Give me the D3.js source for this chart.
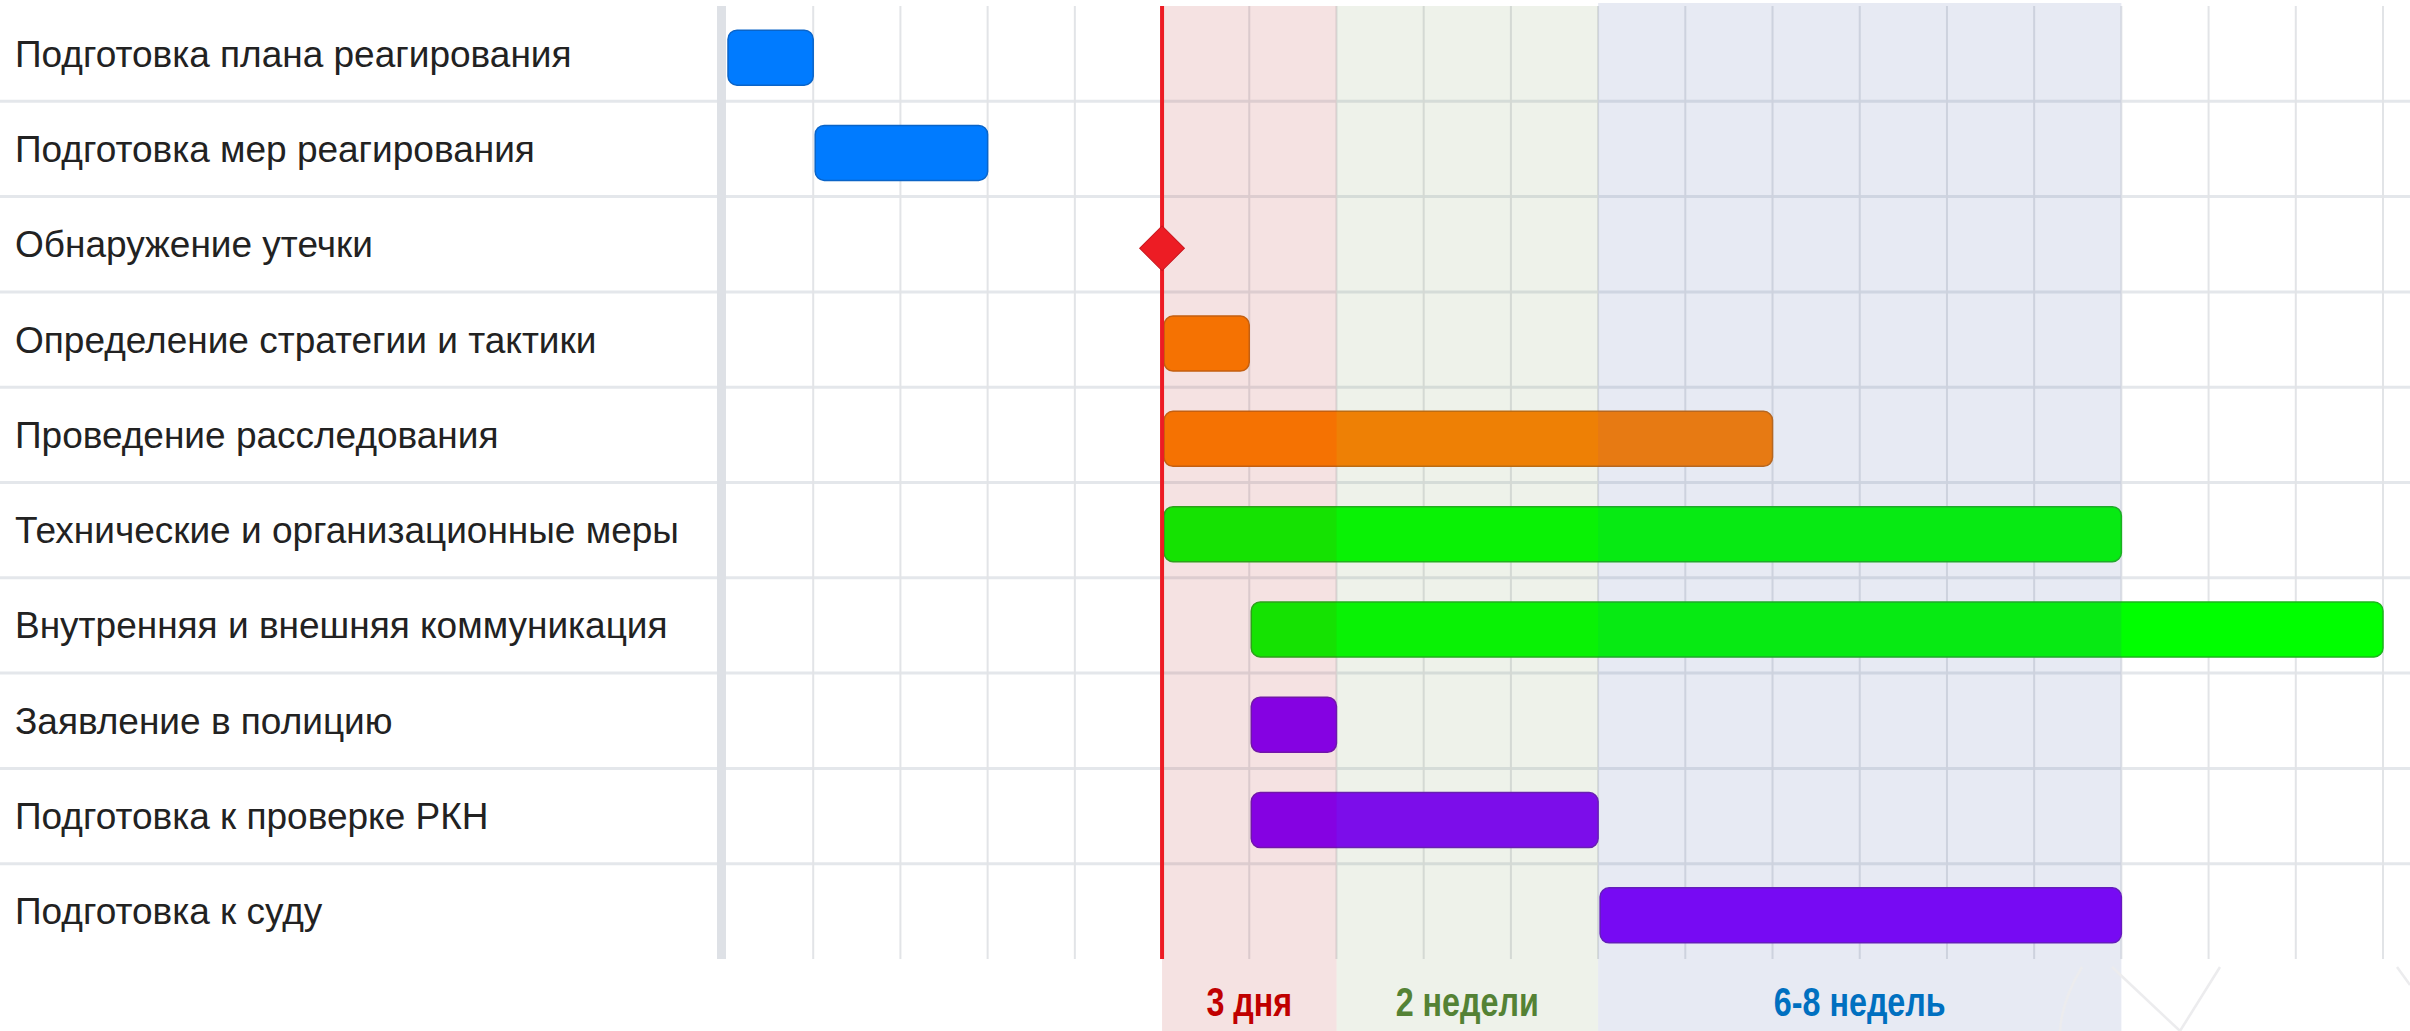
<!DOCTYPE html>
<html>
<head>
<meta charset="utf-8">
<script src="https://cdn.jsdelivr.net/npm/d3@7"></script>
<style>
  html, body { margin: 0; padding: 0; background: #fff; }
  svg { display: block; }
  .task-label { font-family: "Liberation Sans", Arial, sans-serif; font-size: 37px; fill: #222; }
  .phase-label { font-family: "Liberation Sans", Arial, sans-serif; font-weight: bold; font-size: 38px; }
</style>
</head>
<body>
<div id="chart"></div>
<script>
// tasks of the response plan, in row order
var tasks = [
  "Подготовка плана реагирования",
  "Подготовка мер реагирования",
  "Обнаружение утечки",
  "Определение стратегии и тактики",
  "Проведение расследования",
  "Технические и организационные меры",
  "Внутренняя и внешняя коммуникация",
  "Заявление в полицию",
  "Подготовка к проверке РКН",
  "Подготовка к суду"
];
var taskStart = [0, 1, 5, 5, 5, 5, 6, 6, 6, 10];
var taskEnd   = [1, 3, 5, 6, 12, 16, 19, 7, 10, 16];
var taskGroup = ["prep", "prep", "milestone", "strategy", "strategy", "measures", "measures", "legal", "legal", "legal"];

// phases after the leak is found
var phaseLabels = ["3 дня", "2 недели", "6-8 недель"];
var phaseStart  = [5, 7, 10];
var phaseEnd    = [7, 10, 16];

var detectionDay = 5;
var lastDay = 19;

var width = 2410,
    height = 1031,
    gridTop = 6,
    gridBottom = 959;

var fills = { prep: "#007bff", strategy: "#ff8000", measures: "#00ff00", legal: "#8000ff" },
    strokes = { prep: "#0a64c8", strategy: "#c86a10", measures: "#1cb51c", legal: "#6a16c0" },
    phaseFill = ["rgba(170,20,20,0.12)", "rgba(90,130,50,0.10)", "rgba(60,80,160,0.12)"],
    phaseText = ["#c00000", "#548235", "#0070c0"];

var x = d3.scaleLinear()
    .domain([0, lastDay])
    .range([726, 2383]);

var y = d3.scaleBand()
    .domain(tasks)
    .range([gridTop, gridBottom]);

var svg = d3.select("#chart").append("svg")
    .attr("width", width)
    .attr("height", height);

// row separators (full width, through the label column)
svg.append("g")
  .selectAll("line")
  .data(tasks.slice(1))
  .enter().append("line")
    .attr("x1", 0)
    .attr("x2", width)
    .attr("y1", function(d) { return y(d); })
    .attr("y2", function(d) { return y(d); })
    .attr("stroke", "#e4e7eb")
    .attr("stroke-width", 3);

// vertical day grid
svg.append("g")
  .selectAll("line")
  .data(x.ticks(lastDay).filter(function(d) { return d > 0; }))
  .enter().append("line")
    .attr("x1", function(d) { return x(d); })
    .attr("x2", function(d) { return x(d); })
    .attr("y1", gridTop)
    .attr("y2", gridBottom)
    .attr("stroke", "#e2e4e7")
    .attr("stroke-width", 2);

// left axis bar
svg.append("rect")
    .attr("x", x(0) - 9)
    .attr("y", gridTop)
    .attr("width", 9)
    .attr("height", gridBottom - gridTop)
    .attr("fill", "#dee1e6");

// labels
svg.append("g")
  .selectAll("text")
  .data(tasks)
  .enter().append("text")
    .attr("class", "task-label")
    .attr("x", 15)
    .attr("y", function(d) { return y(d) + y.bandwidth() / 2; })
    .attr("dy", "0.35em")
    .text(function(d) { return d; });

// bars
var barH = 55;
var rows = tasks.map(function(d, i) {
  return { name: d, start: taskStart[i], end: taskEnd[i], group: taskGroup[i] };
});

svg.append("g")
  .selectAll("rect")
  .data(rows.filter(function(d) { return d.group !== "milestone"; }))
  .enter().append("rect")
    .attr("x", function(d) { return x(d.start) + 2; })
    .attr("y", function(d) { return y(d.name) + y.bandwidth() / 2 - barH / 2 + 4; })
    .attr("width", function(d) { return x(d.end) - x(d.start) - 2; })
    .attr("height", barH)
    .attr("rx", 9)
    .attr("fill", function(d) { return fills[d.group]; })
    .attr("stroke", function(d) { return strokes[d.group]; })
    .attr("stroke-width", 1.5);

// phase bands drawn over the bars, down into the label strip
var phases = phaseLabels.map(function(d, i) {
  return { label: d, start: phaseStart[i], end: phaseEnd[i], i: i };
});

svg.append("g")
  .selectAll("rect")
  .data(phases)
  .enter().append("rect")
    .attr("x", function(d) { return x(d.start); })
    .attr("y", function(d) { return d.i === 2 ? gridTop - 3 : gridTop; })
    .attr("width", function(d) { return x(d.end) - x(d.start); })
    .attr("height", function(d) { return height - gridTop + (d.i === 2 ? 3 : 0); })
    .attr("fill", function(d) { return phaseFill[d.i]; });

// condensed bold labels under the bands
svg.append("g")
  .selectAll("text")
  .data(phases)
  .enter().append("text")
    .attr("class", "phase-label")
    .attr("transform", function(d) {
      return "translate(" + (x(d.start) + x(d.end)) / 2 + ",1002) scale(0.85,1.06)";
    })
    .attr("dy", "0.35em")
    .attr("text-anchor", "middle")
    .attr("fill", function(d) { return phaseText[d.i]; })
    .text(function(d) { return d.label; });

// faint background ornament bottom right
var orn = svg.append("g")
    .attr("fill", "none")
    .attr("stroke", "#ececee")
    .attr("stroke-width", 2.5);
orn.append("path").attr("d", "M2082,967 Q2062,1000 2060,1031");
orn.append("path").attr("d", "M2112,967 L2180,1031 L2220,967");
orn.append("path").attr("d", "M2397,967 L2410,985");

// detection line + milestone
svg.append("line")
    .attr("x1", x(detectionDay))
    .attr("x2", x(detectionDay))
    .attr("y1", gridTop)
    .attr("y2", gridBottom)
    .attr("stroke", "#ed1c24")
    .attr("stroke-width", 4);

var ms = rows.filter(function(d) { return d.group === "milestone"; });
svg.append("g")
  .selectAll("path")
  .data(ms)
  .enter().append("path")
    .attr("d", d3.symbol().type(d3.symbolSquare).size(1000))
    .attr("transform", function(d) {
      return "translate(" + x(d.start) + "," + (y(d.name) + y.bandwidth() / 2 + 4) + ") rotate(45)";
    })
    .attr("fill", "#ed1c24")
    .attr("stroke", "#c8141c")
    .attr("stroke-width", 1);
</script>
</body>
</html>
